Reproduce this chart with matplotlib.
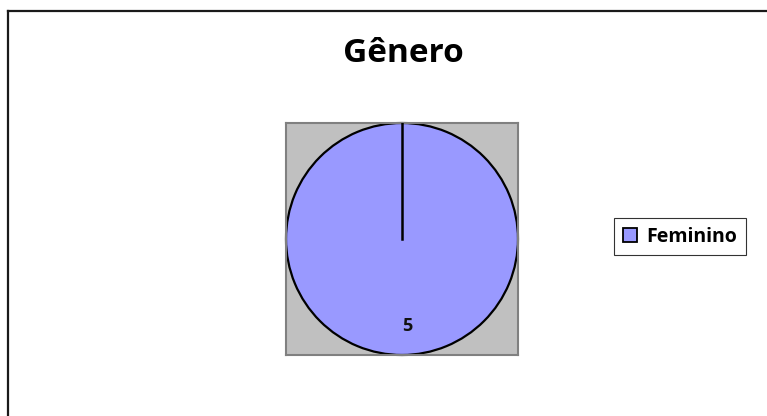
import matplotlib
matplotlib.use("Agg")
import numpy as np
import matplotlib.pyplot as plt
from matplotlib.lines import Line2D
from matplotlib.patches import Patch

categories = ["Feminino"]
values = [5]
colors = ["#9999FF"]
title = "Gênero"

W, H = 767, 416
FONT = "Open Sans"
fig = plt.figure(figsize=(W / 100, H / 100), dpi=100)
fig.patch.set_facecolor("white")

# outer chart frame (cropped: only top and left visible)
fig.add_artist(Line2D([8 / W, 1.0], [1 - 11 / H, 1 - 11 / H], transform=fig.transFigure,
                      color="#1a1a1a", lw=1.6))
fig.add_artist(Line2D([8 / W, 8 / W], [1 - 11 / H, 0.0], transform=fig.transFigure,
                      color="#1a1a1a", lw=1.6))

# plot area
ax = fig.add_axes([286 / W, 1 - 355 / H, 232 / W, 232 / H])
startangle = 90
wedges, texts, autotexts = ax.pie(
    values, colors=colors, startangle=startangle, counterclock=False, radius=1.0,
    frame=True,
    wedgeprops=dict(edgecolor="black", linewidth=1.6),
    autopct=lambda p: f"{round(p * sum(values) / 100):d}", pctdistance=0.75,
    textprops=dict(fontsize=13, fontweight="bold", family=FONT, color="#111111"))
for t in autotexts:
    t.set_ha("left")
# radial edge of the (full-circle) slice at its start angle
a = np.deg2rad(startangle)
ax.plot([0, np.cos(a)], [0, np.sin(a)], color="black", lw=1.8, zorder=3)
ax.set_facecolor("#C0C0C0")
for s in ax.spines.values():
    s.set_visible(True)
    s.set_color("#808080")
    s.set_linewidth(1.5)
ax.set_xlim(-1.0, 1.0)
ax.set_ylim(-1.0, 1.0)
ax.set_aspect("auto")
ax.set_xticks([])
ax.set_yticks([])

fig.text(403 / W, 1 - 53 / H, title, ha="center", va="center",
         fontsize=24, fontweight="bold", family=FONT)

handles = [Patch(facecolor=c, edgecolor="black", linewidth=1.3, label=l)
           for c, l in zip(colors, categories)]
leg = fig.legend(handles=handles, loc="center left",
                 bbox_to_anchor=(614 / W, 1 - 236.5 / H), frameon=True, fancybox=False,
                 edgecolor="#000000", prop=dict(family=FONT, weight="bold", size=14),
                 handlelength=0.75, handleheight=0.75, handletextpad=0.45,
                 borderpad=0.45, borderaxespad=0)
leg.get_frame().set_linewidth(0.8)

fig.savefig("out.png", dpi=100)
